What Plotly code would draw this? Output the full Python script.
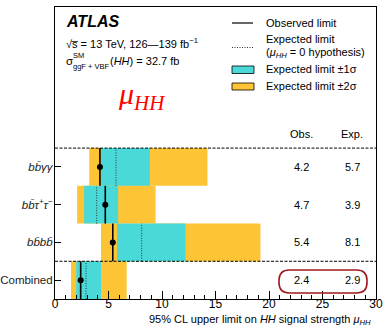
import plotly.graph_objects as go

# ---------------- data ----------------
channels = ["Combined", "<i>bb\u0304bb\u0304</i>", "<i>bb\u0304\u03c4<sup>+</sup>\u03c4<sup>\u2212</sup></i>", "<i>bb\u0304\u03b3\u03b3</i>"]
observed = [2.4, 5.4, 4.7, 4.2]
expected = [2.9, 8.1, 3.9, 5.7]
minus2 = [1.5, 4.3, 2.07, 3.2]
minus1 = [1.98, 5.8, 2.72, 4.3]
plus1 = [4.3, 12.2, 5.9, 8.87]
plus2 = [6.7, 19.2, 9.4, 14.25]
x_ticks = [0, 5, 10, 15, 20, 25, 30]

W, H = 383, 329
L, R, T, B = 55, 7, 7, 30
PW, PH = W - L - R, H - T - B
YMIN, YMAX = -0.5, 7.24
XMIN, XMAX = 0, 30

def px(x):
    return (x - L) / PW

def py(y):
    return (H - B - y) / PH

def dx(xpix):
    return XMIN + (xpix - L) / PW * (XMAX - XMIN)

def dy(ypix):
    return YMIN + (H - B - ypix) / PH * (YMAX - YMIN)

rows = list(range(len(channels)))
CYAN = "#4ad9d9"
YELLOW = "#fdc536"
FONT = "Liberation Sans"

fig = go.Figure()
fig.add_trace(go.Bar(orientation="h", y=rows, base=minus2,
                     x=[b - a for a, b in zip(minus2, plus2)], width=1,
                     marker=dict(color=YELLOW, line=dict(width=0)), showlegend=False))
fig.add_trace(go.Bar(orientation="h", y=rows, base=minus1,
                     x=[b - a for a, b in zip(minus1, plus1)], width=1,
                     marker=dict(color=CYAN, line=dict(width=0)), showlegend=False))

ex, ey, ox, oy = [], [], [], []
for i in rows:
    ex += [expected[i], expected[i], None]
    ey += [i - 0.5, i + 0.5, None]
    ox += [observed[i], observed[i], None]
    oy += [i - 0.5, i + 0.5, None]
fig.add_trace(go.Scatter(x=ex, y=ey, mode="lines",
                         line=dict(color="#333", width=1, dash="1px,1.5px"), showlegend=False))
fig.add_trace(go.Scatter(x=ox, y=oy, mode="lines",
                         line=dict(color="black", width=1.6), showlegend=False))
fig.add_trace(go.Scatter(x=observed, y=rows, mode="markers",
                         marker=dict(color="black", size=6), showlegend=False))

ann = []
shapes = []
for yv in [3.5, 0.5]:
    shapes.append(dict(type="line", xref="paper", x0=0, x1=1, yref="y", y0=yv, y1=yv,
                       line=dict(color="black", width=1, dash="3px,1.5px")))

# table
xo, xe = dx(301), dx(352)
yh = dy(134)
ann.append(dict(x=xo, y=yh, text="Obs.", showarrow=False, xanchor="center", yanchor="middle",
                font=dict(size=11, family=FONT, color="black")))
ann.append(dict(x=xe, y=yh, text="Exp.", showarrow=False, xanchor="center", yanchor="middle",
                font=dict(size=11, family=FONT, color="black")))
for i in rows:
    ann.append(dict(x=xo, y=i, text=f"{observed[i]:.1f}", showarrow=False, xanchor="center",
                    yanchor="middle", font=dict(size=11, family=FONT, color="black")))
    ann.append(dict(x=xe, y=i, text=f"{expected[i]:.1f}", showarrow=False, xanchor="center",
                    yanchor="middle", font=dict(size=11, family=FONT, color="black")))

# rounded box around combined
x0, x1 = dx(279), dx(367)
yt, yb = dy(270), dy(293)
rx = (XMAX - XMIN) / PW * 10.5
ry = (YMAX - YMIN) / PH * 10.5
path = (f"M {x0+rx},{yt} L {x1-rx},{yt} Q {x1},{yt} {x1},{yt-ry} L {x1},{yb+ry} "
        f"Q {x1},{yb} {x1-rx},{yb} L {x0+rx},{yb} Q {x0},{yb} {x0},{yb+ry} "
        f"L {x0},{yt-ry} Q {x0},{yt} {x0+rx},{yt} Z")
shapes.append(dict(type="path", xref="x", yref="y", path=path,
                   line=dict(color="#a0181c", width=1.6)))

def pann(x, y, text, size=11, anchor="left", **kw):
    d = dict(xref="paper", yref="paper", x=px(x), y=py(y), text=text, showarrow=False,
             xanchor=anchor, yanchor="middle", font=dict(size=size, family=FONT, color="black"))
    d.update(kw)
    return d

ann.append(pann(64, 22, "<b><i>ATLAS</i></b>", size=16))
ann.append(pann(64, 43, "\u221as\u0305 = 13 TeV, 126\u2014139 fb<sup>\u22121</sup>", size=11))
ann.append(pann(64, 61, "\u03c3", size=11.5))
ann.append(pann(71, 55, "SM", size=7.5))
ann.append(pann(71, 66, "ggF + VBF", size=7.5))
ann.append(pann(108, 61, "(<i>HH</i>) = 32.7 fb", size=11))
ann.append(dict(xref="paper", yref="paper", x=px(116), y=py(96), text="<i>\u03bc<sub>HH</sub></i>",
                showarrow=False, xanchor="left", yanchor="middle",
                font=dict(size=30, family="Liberation Serif", color="#ff0000")))

# legend
shapes.append(dict(type="line", xref="paper", yref="paper", x0=px(232), x1=px(253),
                   y0=py(23), y1=py(23), line=dict(color="black", width=1.2)))
shapes.append(dict(type="line", xref="paper", yref="paper", x0=px(232), x1=px(253),
                   y0=py(47.5), y1=py(47.5), line=dict(color="#333", width=1, dash="1px,1.5px")))
shapes.append(dict(type="rect", xref="paper", yref="paper", x0=px(232), x1=px(254),
                   y0=py(73.5), y1=py(66), fillcolor=CYAN, line=dict(color="black", width=0.8)))
shapes.append(dict(type="rect", xref="paper", yref="paper", x0=px(232), x1=px(254),
                   y0=py(90), y1=py(83), fillcolor=YELLOW, line=dict(color="black", width=0.8)))
ann.append(pann(264, 23, "Observed limit"))
ann.append(pann(264, 39, "Expected limit"))
ann.append(pann(264, 53, "(<i>\u03bc<sub>HH</sub></i> = 0 hypothesis)"))
ann.append(pann(264, 69, "Expected limit \u00b11\u03c3"))
ann.append(pann(264, 86, "Expected limit \u00b12\u03c3"))

ann.append(dict(xref="paper", yref="paper", x=px(373), y=py(320),
                text="95% CL upper limit on <i>HH</i> signal strength <i>\u03bc<sub>HH</sub></i>",
                showarrow=False, xanchor="right", yanchor="middle",
                font=dict(size=11, family=FONT, color="black")))

fig.update_layout(
    width=W, height=H, margin=dict(l=L, r=R, t=T, b=B, autoexpand=False),
    paper_bgcolor="white", plot_bgcolor="white", barmode="overlay",
    showlegend=False, annotations=ann, shapes=shapes,
    font=dict(family=FONT, color="black"),
)
fig.update_xaxes(range=[XMIN, XMAX], tickvals=x_ticks, ticks="inside", ticklen=8, tickwidth=1,
                 tickcolor="black", minor=dict(dtick=1, ticks="inside", ticklen=4, tickcolor="black"),
                 showline=True, linecolor="black", linewidth=1.2, mirror=True, showgrid=False,
                 zeroline=False, automargin=False, ticklabelstandoff=-7,
                 tickfont=dict(size=12, family=FONT, color="black"))
fig.update_yaxes(range=[YMIN, YMAX], tickvals=rows, ticktext=channels, ticks="inside", ticklen=6,
                 tickcolor="black", showline=True, linecolor="black", linewidth=1.2, mirror=True,
                 showgrid=False, zeroline=False, automargin=False, ticklabelstandoff=-1,
                 tickfont=dict(size=11.5, family=FONT, color="#222"))

fig.write_html("out.html")
